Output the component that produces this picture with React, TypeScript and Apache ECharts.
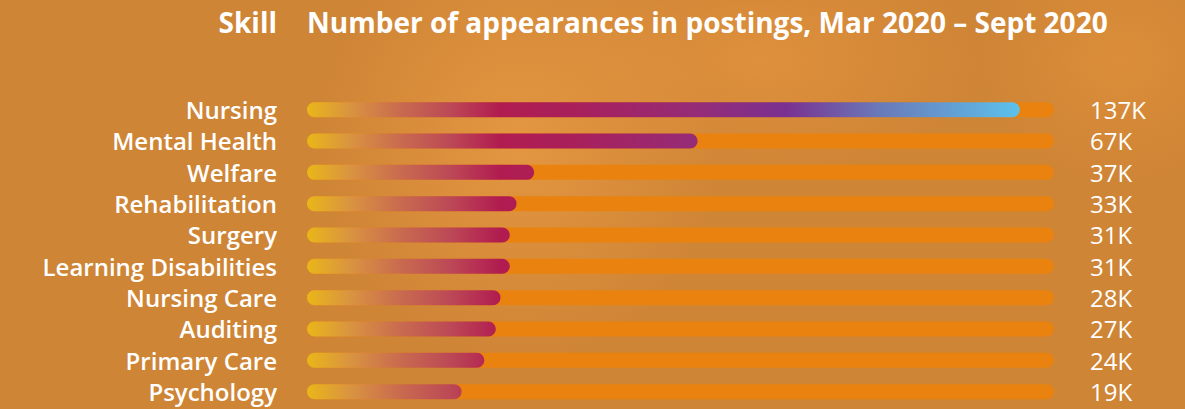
import React, { useEffect, useRef } from "react";
import * as echarts from "echarts";

const skills = [
  "Nursing",
  "Mental Health",
  "Welfare",
  "Rehabilitation",
  "Surgery",
  "Learning Disabilities",
  "Nursing Care",
  "Auditing",
  "Primary Care",
  "Psychology",
];
const valueLabels = ["137K", "67K", "37K", "33K", "31K", "31K", "28K", "27K", "24K", "19K"];
// bar lengths as drawn in the picture (in thousands, on a 0–144 track)
const barLengths = [137.4, 75.3, 43.8, 40.4, 39.1, 39.1, 37.3, 36.4, 34.2, 29.8];
const trackMax = 144;
const titleSkill = "Skill";
const titleMain = "Number of appearances in postings, Mar 2020 – Sept 2020";

const FONT = "'Open Sans', 'Noto Sans', sans-serif";

export default function App() {
  const ref = useRef<HTMLDivElement>(null);
  useEffect(() => {
    if (!ref.current) return;
    const chart = echarts.init(ref.current, null, { renderer: "svg" });
    const grad = new echarts.graphic.LinearGradient(
      307, 0, 1020, 0,
      [
        { offset: 0, color: "#E9B619" },
        { offset: 0.06, color: "#DA9440" },
        { offset: 0.13, color: "#C96B4F" },
        { offset: 0.2, color: "#BC4956" },
        { offset: 0.27, color: "#B11C50" },
        { offset: 0.38, color: "#A8205C" },
        { offset: 0.55, color: "#952C78" },
        { offset: 0.67, color: "#7A3090" },
        { offset: 0.8, color: "#6A78B8" },
        { offset: 1, color: "#5CC2EC" },
      ],
      true
    );
    chart.setOption({
      animation: false,
      backgroundColor: "#CF8536",
      graphic: [
        {
          type: "ellipse",
          shape: { cx: 520, cy: 140, rx: 200, ry: 220 },
          style: {
            fill: new echarts.graphic.RadialGradient(0.5, 0.5, 0.5, [
              { offset: 0, color: "rgba(242,162,72,0.6)" },
              { offset: 1, color: "rgba(242,162,72,0)" },
            ]),
          },
          z: -10,
        },
        {
          type: "ellipse",
          shape: { cx: 760, cy: 60, rx: 220, ry: 120 },
          style: {
            fill: new echarts.graphic.RadialGradient(0.5, 0.5, 0.5, [
              { offset: 0, color: "rgba(238,155,65,0.5)" },
              { offset: 1, color: "rgba(238,155,65,0)" },
            ]),
          },
          z: -10,
        },
        {
          type: "ellipse",
          shape: { cx: 1120, cy: 60, rx: 140, ry: 120 },
          style: {
            fill: new echarts.graphic.RadialGradient(0.5, 0.5, 0.5, [
              { offset: 0, color: "rgba(232,150,60,0.5)" },
              { offset: 1, color: "rgba(232,150,60,0)" },
            ]),
          },
          z: -10,
        },
        {
          type: "text",
          x: 277,
          y: 22,
          style: {
            text: titleSkill,
            fill: "#ffffff",
            font: `bold 28px ${FONT}`,
            align: "right",
            verticalAlign: "middle",
          },
        },
        {
          type: "text",
          x: 307,
          y: 22,
          style: {
            text: titleMain,
            fill: "#ffffff",
            font: `bold 28px ${FONT}`,
            align: "left",
            verticalAlign: "middle",
          },
        },
      ],
      grid: { left: 307, right: 131, top: 94, height: 313.3 },
      xAxis: {
        type: "value",
        min: 0,
        max: trackMax,
        show: false,
      },
      yAxis: [
        {
          type: "category",
          data: skills,
          inverse: true,
          axisLine: { show: false },
          axisTick: { show: false },
          axisLabel: {
            color: "#ffffff",
            fontSize: 24,
            fontWeight: 600,
            fontFamily: FONT,
            margin: 30,
          },
        },
        {
          type: "category",
          data: valueLabels,
          inverse: true,
          position: "right",
          axisLine: { show: false },
          axisTick: { show: false },
          axisLabel: {
            color: "#ffffff",
            fontSize: 24,
            fontWeight: 500,
            fontFamily: FONT,
            margin: 36,
            align: "left",
          },
        },
      ],
      series: [
        {
          type: "bar",
          data: skills.map(() => trackMax),
          barWidth: 15,
          barGap: "-100%",
          itemStyle: { color: "#E9820F", borderRadius: 7.5 },
          silent: true,
          z: 1,
        },
        {
          type: "bar",
          data: barLengths,
          barWidth: 15,
          itemStyle: { color: grad, borderRadius: 7.5 },
          z: 2,
        },
      ],
    });
    return () => chart.dispose();
  }, []);
  return (
    <div
      ref={ref}
      style={{ position: "fixed", left: 0, top: 0, width: 1185, height: 409 }}
    />
  );
}
